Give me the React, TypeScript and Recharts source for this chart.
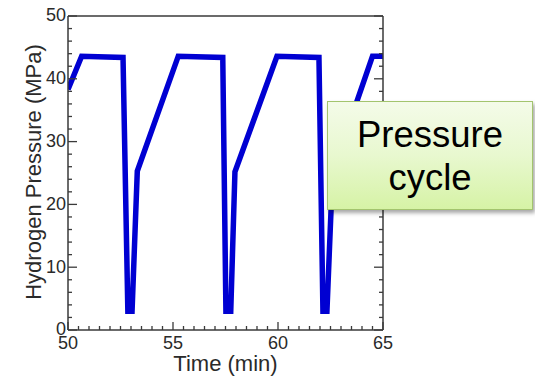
import React from 'react';
import { LineChart, Line, XAxis, YAxis } from 'recharts';

// time (min) and hydrogen pressure (MPa)
const timeMin = [50, 50.65, 52.62, 52.85, 53.05, 53.3, 55.25, 57.37, 57.52, 57.75, 57.95, 59.95, 61.95, 62.14, 62.33, 62.6, 64.5, 65];
const pressureMPa = [38.3, 43.6, 43.4, 3, 3, 25.3, 43.6, 43.4, 3, 3, 25.2, 43.6, 43.4, 3, 3, 25.2, 43.6, 43.6];

const xTicks = Array.from({ length: 31 }, (_, i) => 50 + i * 0.5);
const xLabels = [50, 55, 60, 65];
const yTicks = Array.from({ length: 26 }, (_, i) => i * 2);
const yLabels = [0, 10, 20, 30, 40, 50];

const calloutLines = ['Pressure', 'cycle'];

const data = timeMin.map((t, i) => ({ t, p: pressureMPa[i] }));

const FONT = '"Liberation Sans", Arial, Helvetica, sans-serif';
const AXIS = '#3a3a3a';
const TEXT = '#2a2a2a';

const BottomTick = (props: any) => {
  const { x, y, payload } = props;
  const major = xLabels.includes(payload.value);
  return (
    <g>
      <line x1={x} y1={y} x2={x} y2={y - (major ? 8 : 4)} stroke={AXIS} strokeWidth={1.3} />
      {major && (
        <text x={x} y={y + 19} textAnchor="middle" fontSize={18} fontFamily={FONT} fill={TEXT}>
          {payload.value}
        </text>
      )}
    </g>
  );
};

const TopTick = (props: any) => {
  const { x, y, payload } = props;
  const major = xLabels.includes(payload.value);
  return <line x1={x} y1={y} x2={x} y2={y + (major ? 8 : 4)} stroke={AXIS} strokeWidth={1.3} />;
};

const LeftTick = (props: any) => {
  const { x, y, payload } = props;
  const major = yLabels.includes(payload.value);
  return (
    <g>
      <line x1={x} y1={y} x2={x + (major ? 9 : 4)} y2={y} stroke={AXIS} strokeWidth={1.3} />
      {major && (
        <text x={x - 2} y={y - 1} dy="0.35em" textAnchor="end" fontSize={18} fontFamily={FONT} fill={TEXT}>
          {payload.value}
        </text>
      )}
    </g>
  );
};

const RightTick = (props: any) => {
  const { x, y, payload } = props;
  const major = yLabels.includes(payload.value);
  return <line x1={x} y1={y} x2={x - (major ? 9 : 4)} y2={y} stroke={AXIS} strokeWidth={1.3} />;
};

const XTitle = () => (
  <text x={225.5} y={371} textAnchor="middle" fontSize={22} fontFamily={FONT} fill={TEXT}>
    Time (min)
  </text>
);

const YTitle = () => (
  <text transform="translate(41,172) rotate(-90)" textAnchor="middle" fontSize={22} fontFamily={FONT} fill={TEXT}>
    Hydrogen Pressure (MPa)
  </text>
);

export default function App() {
  return (
    <div style={{ position: 'absolute', left: 0, top: 0, width: 535, height: 376, background: '#fff' }}>
      <LineChart width={535} height={376} data={data} margin={{ top: 15, right: 151, bottom: 0, left: 0 }}>
        <XAxis
          dataKey="t"
          type="number"
          domain={[50, 65]}
          ticks={xTicks}
          interval={0}
          height={46}
          tickSize={0}
          tickMargin={0}
          tick={<BottomTick />}
          axisLine={{ stroke: AXIS, strokeWidth: 1.5 }}
          label={<XTitle />}
          allowDataOverflow
        />
        <XAxis
          xAxisId="top"
          orientation="top"
          type="number"
          domain={[50, 65]}
          ticks={xTicks}
          interval={0}
          height={1}
          tickSize={0}
          tickMargin={0}
          tick={<TopTick />}
          axisLine={{ stroke: AXIS, strokeWidth: 1.5 }}
          allowDataOverflow
        />
        <YAxis
          type="number"
          domain={[0, 50]}
          ticks={yTicks}
          interval={0}
          width={68}
          tickSize={0}
          tickMargin={0}
          tick={<LeftTick />}
          axisLine={{ stroke: AXIS, strokeWidth: 1.5 }}
          label={<YTitle />}
          allowDataOverflow
        />
        <YAxis
          yAxisId="right"
          orientation="right"
          type="number"
          domain={[0, 50]}
          ticks={yTicks}
          interval={0}
          width={1}
          tickSize={0}
          tickMargin={0}
          tick={<RightTick />}
          axisLine={{ stroke: AXIS, strokeWidth: 1.5 }}
          allowDataOverflow
        />
        <Line
          dataKey="p"
          type="linear"
          stroke="#0000d2"
          strokeWidth={5.5}
          dot={false}
          isAnimationActive={false}
        />
      </LineChart>
      <div
        style={{
          position: 'absolute',
          left: 327,
          top: 101,
          width: 206,
          height: 109,
          boxSizing: 'border-box',
          border: '1px solid #a3c46e',
          background: 'linear-gradient(to bottom, #f4fbe9 0%, #e8f8cf 50%, #d6f3a6 100%)',
          boxShadow: '2px 3px 4px rgba(0,0,0,0.35)',
          display: 'flex',
          flexDirection: 'column',
          alignItems: 'center',
          justifyContent: 'center',
          fontFamily: FONT,
          fontSize: 36.5,
          lineHeight: '43px',
          color: '#000',
        }}
      >
        {calloutLines.map((s) => (
          <div key={s}>{s}</div>
        ))}
      </div>
    </div>
  );
}
